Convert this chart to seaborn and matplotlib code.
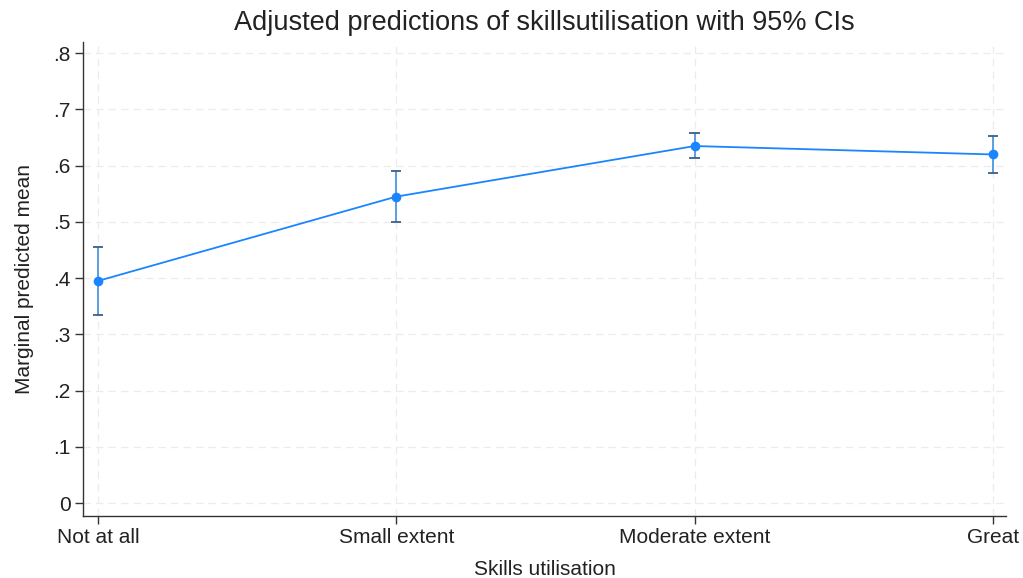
import matplotlib
matplotlib.use("Agg")
import matplotlib.pyplot as plt
import seaborn as sns
import pandas as pd
import numpy as np

categories = ["Not at all", "Small extent", "Moderate extent", "Great"]
margins = [0.395, 0.545, 0.635, 0.620]
ci_low = [0.334, 0.500, 0.613, 0.587]
ci_high = [0.455, 0.591, 0.658, 0.653]
y_ticks = [0, 0.1, 0.2, 0.3, 0.4, 0.5, 0.6, 0.7, 0.8]
y_tick_labels = ["0", ".1", ".2", ".3", ".4", ".5", ".6", ".7", ".8"]

sns.set_theme(style="white")
plt.rcParams["font.family"] = ["Liberation Sans", "DejaVu Sans"]

df = pd.DataFrame({"pos": np.arange(len(categories)), "margin": margins,
                   "lo": ci_low, "hi": ci_high})

fig = plt.figure(figsize=(10.23, 5.78), dpi=100)
ax = fig.add_axes([0.0811, 0.1073, 0.9023, 0.8200])

line_col = "#1a85ff"
# confidence intervals
ax.vlines(df["pos"], df["lo"], df["hi"], color="#5a9ee0", lw=1.4, zorder=2)
ax.hlines(df["lo"], df["pos"] - 0.017, df["pos"] + 0.017, color="#3f5f85", lw=1.3, zorder=2)
ax.hlines(df["hi"], df["pos"] - 0.017, df["pos"] + 0.017, color="#3f5f85", lw=1.3, zorder=2)

sns.lineplot(data=df, x="pos", y="margin", ax=ax, color=line_col, lw=1.3,
             marker="o", markersize=7, markeredgewidth=0, zorder=3)

ax.set_xlim(-0.05, 3.044)
ax.set_ylim(-0.023, 0.82)
ax.set_xticks(df["pos"])
ax.set_xticklabels(categories, fontsize=15, color="#222222")
ax.set_yticks(y_ticks)
ax.set_yticklabels(y_tick_labels, fontsize=15, color="#222222")

ax.grid(True, axis="both", linestyle=(0, (6, 4)), color="#ececec", lw=0.9)
for s in ["top", "right"]:
    ax.spines[s].set_visible(False)
for s in ["left", "bottom"]:
    ax.spines[s].set_color("#333333")
    ax.spines[s].set_linewidth(1.0)
ax.tick_params(axis="both", which="both", length=6, width=1.0, color="#333333",
               left=True, bottom=True, pad=3)

ax.set_xlabel("Skills utilisation", fontsize=15, color="#222222", labelpad=9)
ax.set_ylabel("Marginal predicted mean", fontsize=15, color="#222222", labelpad=14)
ax.set_title("Adjusted predictions of skillsutilisation with 95% CIs", fontsize=19.5,
             color="#222222", pad=9)

fig.savefig("out.png", dpi=100, facecolor="white")
